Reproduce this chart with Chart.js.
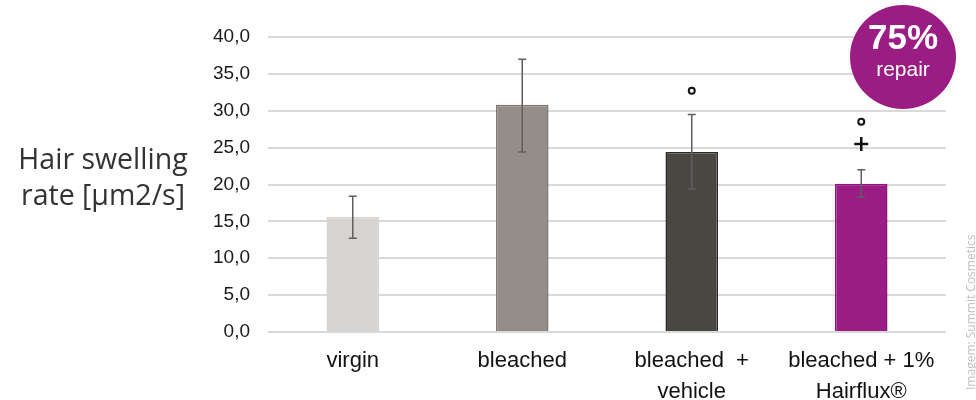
<!DOCTYPE html>
<html>
<head>
<meta charset="utf-8">
<script src="https://cdn.jsdelivr.net/npm/chart.js@4.4.1/dist/chart.umd.min.js"></script>
<style>
    body { margin: 0; background: #fff; }
    #wrap { position: relative; width: 976px; height: 400px; }
    #yTitle {
        position: absolute; left: 0; top: 140px; width: 206px;
        text-align: center; font-family: 'Open Sans', sans-serif;
        font-size: 28.5px; line-height: 36px; color: #333;
    }
    #badge {
        position: absolute; left: 850px; top: 5px; width: 106px; height: 104px;
        border-radius: 50%; background: #9b1d84; color: #fff;
        font-family: 'Liberation Sans', Arial, sans-serif; text-align: center;
    }
    #badge .big { font-size: 35px; font-weight: bold; margin-top: 13px; line-height: 38px; }
    #badge .small { font-size: 21px; line-height: 26px; }
    #credit {
        position: absolute; left: 964px; top: 390px;
        transform-origin: 0 0; transform: rotate(-90deg);
        font-family: 'Open Sans', sans-serif; font-size: 12px; color: #c0c0c0;
        white-space: nowrap; line-height: 13px;
    }
</style>
</head>
<body>
<div id="wrap">
    <canvas id="swellChart" width="976" height="400"></canvas>
    <div id="yTitle">Hair swelling<br>rate [µm2/s]</div>
    <div id="badge"><div class="big">75%</div><div class="small">repair</div></div>
    <div id="credit">Imagem: Summit Cosmetics</div>
</div>
<script>
    // Data
    const categories = [['virgin'], ['bleached'], ['bleached  +', 'vehicle'], ['bleached + 1%', 'Hairflux®']];
    const swellRate = [15.6, 30.8, 24.4, 20.1];
    const errHigh = [18.4, 37.0, 29.5, 22.0];
    const errLow = [12.7, 24.4, 19.4, 18.3];
    const circleMarks = [null, null, 32.7, 28.5];
    const plusMarks = [null, null, null, 25.5];
    const barColors = ['#d6d3d0', '#958d87', '#4a4642', '#9b1d84'];
    const barBorders = ['#d6d3d0', '#7f7771', '#2e2a27', '#8e1679'];

    // Error bars drawn from the scales
    const errorBars = {
        id: 'errorBars',
        afterDatasetsDraw(chart) {
            const ctx = chart.ctx;
            const meta = chart.getDatasetMeta(0);
            const y = chart.scales.y;
            ctx.save();
            ctx.strokeStyle = '#5f5f5f';
            ctx.lineWidth = 1.5;
            meta.data.forEach((bar, i) => {
                const top = y.getPixelForValue(errHigh[i]);
                const bot = y.getPixelForValue(errLow[i]);
                ctx.beginPath();
                ctx.moveTo(bar.x, top); ctx.lineTo(bar.x, bot);
                ctx.moveTo(bar.x - 4, top); ctx.lineTo(bar.x + 4, top);
                ctx.moveTo(bar.x - 4, bot); ctx.lineTo(bar.x + 4, bot);
                ctx.stroke();
            });
            ctx.restore();
        }
    };

    document.addEventListener('DOMContentLoaded', function() {
        const ctx = document.getElementById('swellChart').getContext('2d');
        new Chart(ctx, {
            type: 'bar',
            data: {
                labels: categories,
                datasets: [{
                    data: swellRate,
                    backgroundColor: barColors,
                    borderColor: barBorders,
                    borderWidth: 1.5,
                    barPercentage: 0.62,
                    categoryPercentage: 0.5,
                    order: 2
                }, {
                    type: 'line',
                    data: circleMarks,
                    showLine: false,
                    pointStyle: 'circle',
                    pointRadius: 3,
                    pointBorderWidth: 2,
                    pointBorderColor: '#111',
                    pointBackgroundColor: '#fff',
                    order: 1
                }, {
                    type: 'line',
                    data: plusMarks,
                    showLine: false,
                    pointStyle: 'cross',
                    pointRadius: 7,
                    pointBorderWidth: 2.5,
                    pointBorderColor: '#111',
                    order: 1
                }]
            },
            options: {
                responsive: false,
                animation: false,
                layout: { padding: { left: 200, right: 30, top: 37, bottom: 0 } },
                plugins: { legend: { display: false }, tooltip: { enabled: false } },
                scales: {
                    x: {
                        grid: { display: false },
                        border: { display: false },
                        ticks: {
                            color: '#111', padding: 6,
                            font: { family: "'Liberation Sans', Arial, sans-serif", size: 22, lineHeight: 1.38 }
                        },
                        afterFit(scale) { scale.height = 68; }
                    },
                    y: {
                        min: 0, max: 40,
                        grid: { color: '#d9d9d9', lineWidth: 2, drawTicks: false },
                        border: { display: false },
                        ticks: {
                            stepSize: 5, padding: 18, color: '#1a1a1a',
                            font: { family: "'Liberation Sans', Arial, sans-serif", size: 19 },
                            callback: v => v.toFixed(1).replace('.', ',')
                        },
                        afterFit(scale) { scale.width = 68; }
                    }
                }
            },
            plugins: [errorBars]
        });
    });
</script>
</body>
</html>
